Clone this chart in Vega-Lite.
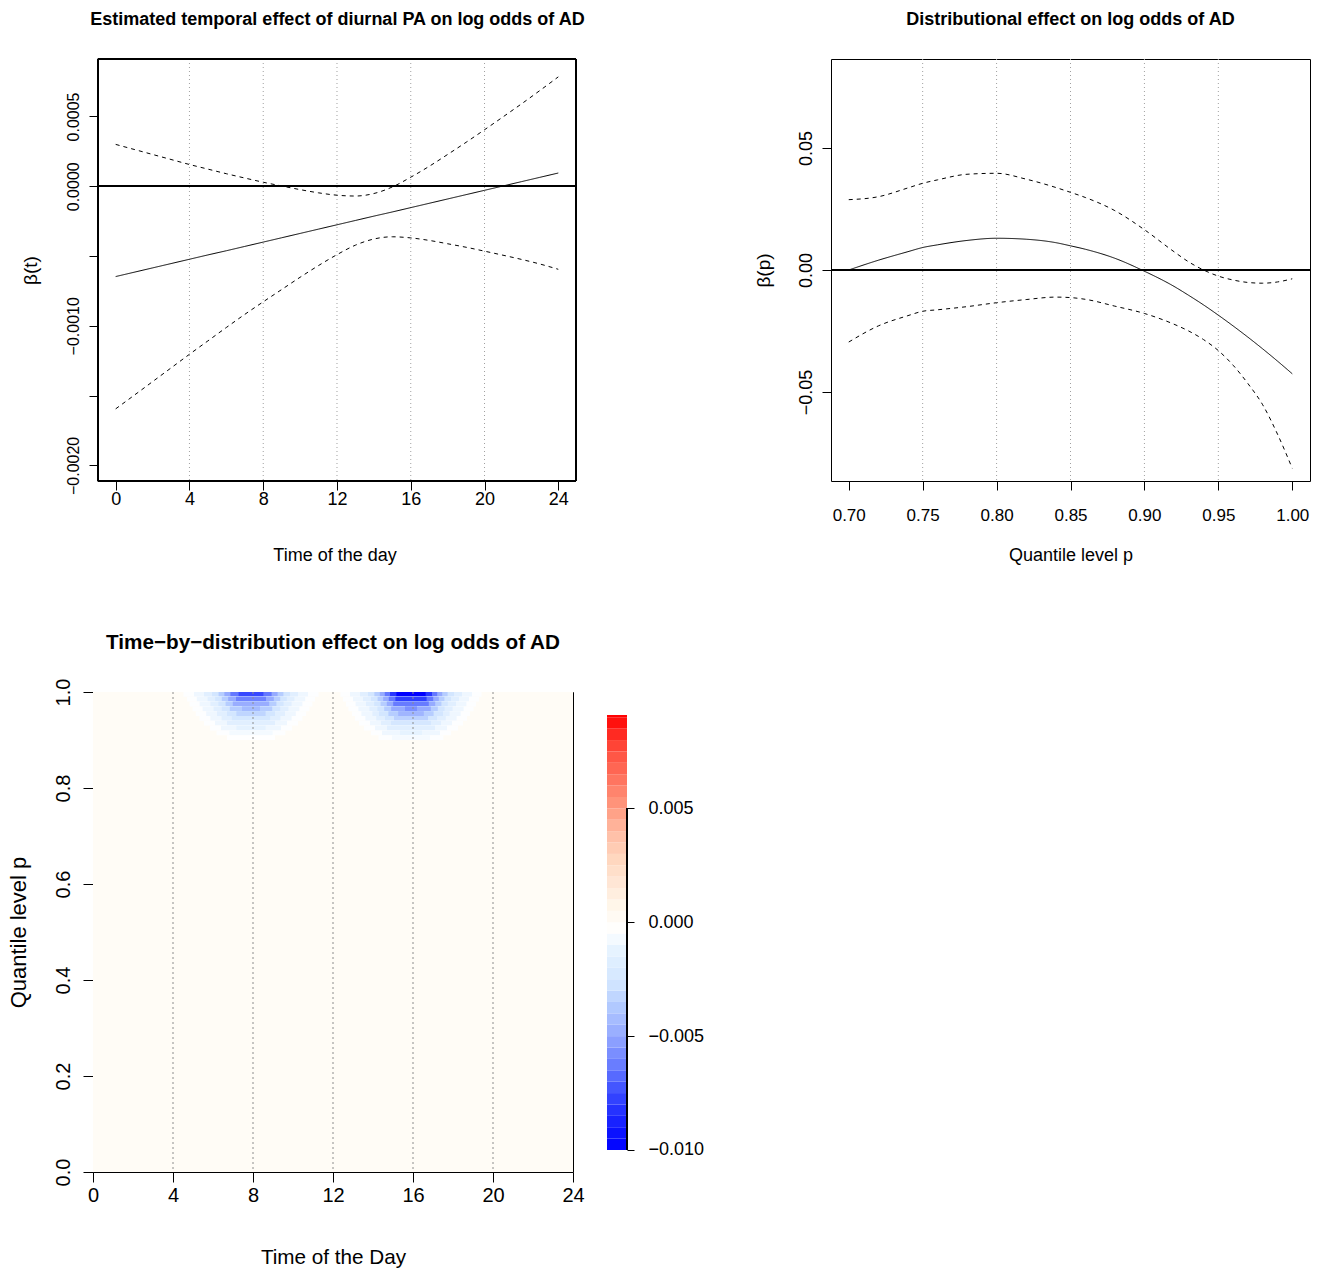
{
"$schema": "https://vega.github.io/schema/vega-lite/v6.json",
"autosize": {"type": "pad"},
"padding": {"left": 6, "top": 10, "right": 0, "bottom": 0},
"background": "white",
"config": {
  "font": "Liberation Sans",
  "view": {"stroke": "black", "strokeWidth": 1},
  "axis": {"domain": false, "grid": false, "tickColor": "black", "tickWidth": 1, "labelColor": "black", "titleColor": "black", "titleFontWeight": "normal", "labelFlush": false, "labelOverlap": false, "labelFont": "Liberation Sans", "titleFont": "Liberation Sans"},
  "title": {"font": "Liberation Sans", "fontWeight": "bold", "color": "black", "anchor": "middle", "frame": "group", "baseline": "top"}
},
"datasets": {
  "p1": [
    {"t":0,"est":-0.000647,"lo":-0.001595,"hi":0.000300},
    {"t":1,"est":-0.000616,"lo":-0.001498,"hi":0.000264},
    {"t":2,"est":-0.000585,"lo":-0.001400,"hi":0.000228},
    {"t":3,"est":-0.000554,"lo":-0.001302,"hi":0.000192},
    {"t":4,"est":-0.000523,"lo":-0.001204,"hi":0.000156},
    {"t":5,"est":-0.000492,"lo":-0.001108,"hi":0.000123},
    {"t":6,"est":-0.000462,"lo":-0.001012,"hi":0.000090},
    {"t":7,"est":-0.000431,"lo":-0.000918,"hi":0.000059},
    {"t":8,"est":-0.000400,"lo":-0.000828,"hi":0.000029},
    {"t":9,"est":-0.000369,"lo":-0.000740,"hi":0.000002},
    {"t":10,"est":-0.000338,"lo":-0.000652,"hi":-0.000024},
    {"t":11,"est":-0.000307,"lo":-0.000568,"hi":-0.000047},
    {"t":12,"est":-0.000276,"lo":-0.000490,"hi":-0.000064},
    {"t":13,"est":-0.000245,"lo":-0.000422,"hi":-0.000070},
    {"t":14,"est":-0.000214,"lo":-0.000378,"hi":-0.000052},
    {"t":15,"est":-0.000184,"lo":-0.000362,"hi":-0.000005},
    {"t":16,"est":-0.000153,"lo":-0.000370,"hi":0.000065},
    {"t":17,"est":-0.000122,"lo":-0.000388,"hi":0.000143},
    {"t":18,"est":-0.000091,"lo":-0.000412,"hi":0.000228},
    {"t":19,"est":-0.000060,"lo":-0.000437,"hi":0.000315},
    {"t":20,"est":-0.000029,"lo":-0.000465,"hi":0.000405},
    {"t":21,"est":0.000002,"lo":-0.000494,"hi":0.000497},
    {"t":22,"est":0.000033,"lo":-0.000524,"hi":0.000590},
    {"t":23,"est":0.000064,"lo":-0.000557,"hi":0.000686},
    {"t":24,"est":0.000095,"lo":-0.000595,"hi":0.000784}
  ],
  "p2": [
    {"p":0.70,"est":0.0000,"lo":-0.0295,"hi":0.0288},
    {"p":0.72,"est":0.0040,"lo":-0.0229,"hi":0.0300},
    {"p":0.74,"est":0.0075,"lo":-0.0187,"hi":0.0336},
    {"p":0.75,"est":0.0092,"lo":-0.0169,"hi":0.0355},
    {"p":0.76,"est":0.0103,"lo":-0.0163,"hi":0.0369},
    {"p":0.78,"est":0.0121,"lo":-0.0150,"hi":0.0392},
    {"p":0.80,"est":0.0130,"lo":-0.0134,"hi":0.0396},
    {"p":0.82,"est":0.0126,"lo":-0.0121,"hi":0.0372},
    {"p":0.84,"est":0.0112,"lo":-0.0111,"hi":0.0338},
    {"p":0.85,"est":0.0099,"lo":-0.0113,"hi":0.0318},
    {"p":0.86,"est":0.0085,"lo":-0.0120,"hi":0.0297},
    {"p":0.88,"est":0.0048,"lo":-0.0148,"hi":0.0243},
    {"p":0.90,"est":-0.0005,"lo":-0.0178,"hi":0.0165},
    {"p":0.92,"est":-0.0067,"lo":-0.0222,"hi":0.0075},
    {"p":0.93,"est":-0.0104,"lo":-0.0250,"hi":0.0033},
    {"p":0.94,"est":-0.0143,"lo":-0.0285,"hi":0.0000},
    {"p":0.95,"est":-0.0185,"lo":-0.0330,"hi":-0.0025},
    {"p":0.96,"est":-0.0229,"lo":-0.0390,"hi":-0.0041},
    {"p":0.97,"est":-0.0275,"lo":-0.0465,"hi":-0.0051},
    {"p":0.98,"est":-0.0323,"lo":-0.0552,"hi":-0.0054},
    {"p":0.99,"est":-0.0373,"lo":-0.0672,"hi":-0.0049},
    {"p":1.00,"est":-0.0425,"lo":-0.0812,"hi":-0.0036}
  ],
  "hm": [
    {"t0":0,"t1":24,"q0":0,"q1":1,"v":0.0001},
    {"t0":4.52,"t1":11.28,"q0":0.99,"q1":1,"v":-0.00045},
    {"t0":5.05,"t1":10.75,"q0":0.99,"q1":1,"v":-0.0009},
    {"t0":5.55,"t1":10.25,"q0":0.99,"q1":1,"v":-0.0016},
    {"t0":5.95,"t1":9.85,"q0":0.99,"q1":1,"v":-0.0025},
    {"t0":6.28,"t1":9.52,"q0":0.99,"q1":1,"v":-0.0036},
    {"t0":6.57,"t1":9.23,"q0":0.99,"q1":1,"v":-0.0049},
    {"t0":6.87,"t1":8.93,"q0":0.99,"q1":1,"v":-0.0064},
    {"t0":7.28,"t1":8.52,"q0":0.99,"q1":1,"v":-0.0076},
    {"t0":4.7,"t1":11.1,"q0":0.98,"q1":0.99,"v":-0.00045},
    {"t0":5.19,"t1":10.61,"q0":0.98,"q1":0.99,"v":-0.0009},
    {"t0":5.73,"t1":10.07,"q0":0.98,"q1":0.99,"v":-0.0016},
    {"t0":6.11,"t1":9.69,"q0":0.98,"q1":0.99,"v":-0.0025},
    {"t0":6.44,"t1":9.36,"q0":0.98,"q1":0.99,"v":-0.0036},
    {"t0":6.76,"t1":9.04,"q0":0.98,"q1":0.99,"v":-0.0049},
    {"t0":7.15,"t1":8.65,"q0":0.98,"q1":0.99,"v":-0.0061},
    {"t0":4.83,"t1":10.97,"q0":0.97,"q1":0.98,"v":-0.00045},
    {"t0":5.33,"t1":10.47,"q0":0.97,"q1":0.98,"v":-0.0009},
    {"t0":5.87,"t1":9.93,"q0":0.97,"q1":0.98,"v":-0.0016},
    {"t0":6.27,"t1":9.53,"q0":0.97,"q1":0.98,"v":-0.0025},
    {"t0":6.63,"t1":9.17,"q0":0.97,"q1":0.98,"v":-0.0036},
    {"t0":6.99,"t1":8.81,"q0":0.97,"q1":0.98,"v":-0.0048},
    {"t0":4.98,"t1":10.82,"q0":0.96,"q1":0.97,"v":-0.00045},
    {"t0":5.48,"t1":10.32,"q0":0.96,"q1":0.97,"v":-0.0009},
    {"t0":6.03,"t1":9.77,"q0":0.96,"q1":0.97,"v":-0.0016},
    {"t0":6.44,"t1":9.36,"q0":0.96,"q1":0.97,"v":-0.0025},
    {"t0":6.84,"t1":8.96,"q0":0.96,"q1":0.97,"v":-0.0036},
    {"t0":7.45,"t1":8.35,"q0":0.96,"q1":0.97,"v":-0.0043},
    {"t0":5.14,"t1":10.66,"q0":0.95,"q1":0.96,"v":-0.00045},
    {"t0":5.66,"t1":10.14,"q0":0.95,"q1":0.96,"v":-0.0009},
    {"t0":6.2,"t1":9.6,"q0":0.95,"q1":0.96,"v":-0.0016},
    {"t0":6.7,"t1":9.1,"q0":0.95,"q1":0.96,"v":-0.0025},
    {"t0":7.17,"t1":8.63,"q0":0.95,"q1":0.96,"v":-0.0033},
    {"t0":5.33,"t1":10.47,"q0":0.94,"q1":0.95,"v":-0.00045},
    {"t0":5.87,"t1":9.93,"q0":0.94,"q1":0.95,"v":-0.0009},
    {"t0":6.43,"t1":9.37,"q0":0.94,"q1":0.95,"v":-0.0016},
    {"t0":6.94,"t1":8.86,"q0":0.94,"q1":0.95,"v":-0.00235},
    {"t0":5.55,"t1":10.25,"q0":0.93,"q1":0.94,"v":-0.00045},
    {"t0":6.1,"t1":9.7,"q0":0.93,"q1":0.94,"v":-0.0009},
    {"t0":6.7,"t1":9.1,"q0":0.93,"q1":0.94,"v":-0.0016},
    {"t0":5.85,"t1":9.95,"q0":0.92,"q1":0.93,"v":-0.00045},
    {"t0":6.4,"t1":9.4,"q0":0.92,"q1":0.93,"v":-0.0009},
    {"t0":7.17,"t1":8.63,"q0":0.92,"q1":0.93,"v":-0.0013},
    {"t0":6.18,"t1":9.62,"q0":0.91,"q1":0.92,"v":-0.00045},
    {"t0":6.82,"t1":8.98,"q0":0.91,"q1":0.92,"v":-0.00075},
    {"t0":6.7,"t1":9.1,"q0":0.90,"q1":0.91,"v":-0.0004},
    {"t0":12.37,"t1":19.43,"q0":0.99,"q1":1,"v":-0.00045},
    {"t0":12.85,"t1":18.95,"q0":0.99,"q1":1,"v":-0.0009},
    {"t0":13.35,"t1":18.45,"q0":0.99,"q1":1,"v":-0.0016},
    {"t0":13.75,"t1":18.05,"q0":0.99,"q1":1,"v":-0.0025},
    {"t0":14.07,"t1":17.73,"q0":0.99,"q1":1,"v":-0.0036},
    {"t0":14.34,"t1":17.46,"q0":0.99,"q1":1,"v":-0.0049},
    {"t0":14.59,"t1":17.21,"q0":0.99,"q1":1,"v":-0.0064},
    {"t0":14.85,"t1":16.95,"q0":0.99,"q1":1,"v":-0.0081},
    {"t0":15.17,"t1":16.63,"q0":0.99,"q1":1,"v":-0.0100},
    {"t0":12.5,"t1":19.3,"q0":0.98,"q1":0.99,"v":-0.00045},
    {"t0":13.0,"t1":18.8,"q0":0.98,"q1":0.99,"v":-0.0009},
    {"t0":13.5,"t1":18.3,"q0":0.98,"q1":0.99,"v":-0.0016},
    {"t0":13.9,"t1":17.9,"q0":0.98,"q1":0.99,"v":-0.0025},
    {"t0":14.23,"t1":17.57,"q0":0.98,"q1":0.99,"v":-0.0036},
    {"t0":14.51,"t1":17.29,"q0":0.98,"q1":0.99,"v":-0.0049},
    {"t0":14.79,"t1":17.01,"q0":0.98,"q1":0.99,"v":-0.0064},
    {"t0":15.12,"t1":16.68,"q0":0.98,"q1":0.99,"v":-0.0079},
    {"t0":12.65,"t1":19.15,"q0":0.97,"q1":0.98,"v":-0.00045},
    {"t0":13.13,"t1":18.67,"q0":0.97,"q1":0.98,"v":-0.0009},
    {"t0":13.65,"t1":18.15,"q0":0.97,"q1":0.98,"v":-0.0016},
    {"t0":14.06,"t1":17.74,"q0":0.97,"q1":0.98,"v":-0.0025},
    {"t0":14.38,"t1":17.42,"q0":0.97,"q1":0.98,"v":-0.0036},
    {"t0":14.69,"t1":17.11,"q0":0.97,"q1":0.98,"v":-0.0049},
    {"t0":15.01,"t1":16.79,"q0":0.97,"q1":0.98,"v":-0.0063},
    {"t0":12.77,"t1":19.03,"q0":0.96,"q1":0.97,"v":-0.00045},
    {"t0":13.27,"t1":18.53,"q0":0.96,"q1":0.97,"v":-0.0009},
    {"t0":13.82,"t1":17.98,"q0":0.96,"q1":0.97,"v":-0.0016},
    {"t0":14.22,"t1":17.58,"q0":0.96,"q1":0.97,"v":-0.0025},
    {"t0":14.56,"t1":17.24,"q0":0.96,"q1":0.97,"v":-0.0036},
    {"t0":14.91,"t1":16.89,"q0":0.96,"q1":0.97,"v":-0.0049},
    {"t0":15.6,"t1":16.2,"q0":0.96,"q1":0.97,"v":-0.0057},
    {"t0":12.95,"t1":18.85,"q0":0.95,"q1":0.96,"v":-0.00045},
    {"t0":13.42,"t1":18.38,"q0":0.95,"q1":0.96,"v":-0.0009},
    {"t0":13.97,"t1":17.83,"q0":0.95,"q1":0.96,"v":-0.0016},
    {"t0":14.3,"t1":17.5,"q0":0.95,"q1":0.96,"v":-0.0025},
    {"t0":14.77,"t1":17.03,"q0":0.95,"q1":0.96,"v":-0.0036},
    {"t0":15.26,"t1":16.54,"q0":0.95,"q1":0.96,"v":-0.0045},
    {"t0":13.1,"t1":18.7,"q0":0.94,"q1":0.95,"v":-0.00045},
    {"t0":13.62,"t1":18.18,"q0":0.94,"q1":0.95,"v":-0.0009},
    {"t0":14.16,"t1":17.64,"q0":0.94,"q1":0.95,"v":-0.0016},
    {"t0":14.6,"t1":17.2,"q0":0.94,"q1":0.95,"v":-0.0025},
    {"t0":15.05,"t1":16.75,"q0":0.94,"q1":0.95,"v":-0.0034},
    {"t0":13.3,"t1":18.5,"q0":0.93,"q1":0.94,"v":-0.00045},
    {"t0":13.85,"t1":17.95,"q0":0.93,"q1":0.94,"v":-0.0009},
    {"t0":14.4,"t1":17.4,"q0":0.93,"q1":0.94,"v":-0.0016},
    {"t0":14.9,"t1":16.9,"q0":0.93,"q1":0.94,"v":-0.0024},
    {"t0":13.55,"t1":18.25,"q0":0.92,"q1":0.93,"v":-0.00045},
    {"t0":14.1,"t1":17.7,"q0":0.92,"q1":0.93,"v":-0.0009},
    {"t0":14.7,"t1":17.1,"q0":0.92,"q1":0.93,"v":-0.0016},
    {"t0":13.9,"t1":17.9,"q0":0.91,"q1":0.92,"v":-0.00045},
    {"t0":14.45,"t1":17.35,"q0":0.91,"q1":0.92,"v":-0.0009},
    {"t0":15.35,"t1":16.45,"q0":0.91,"q1":0.92,"v":-0.00125},
    {"t0":14.28,"t1":17.52,"q0":0.90,"q1":0.91,"v":-0.00045},
    {"t0":14.95,"t1":16.85,"q0":0.90,"q1":0.91,"v":-0.0007}
  ],
  "hgrid": [{"t0":4},{"t0":8},{"t0":12},{"t0":16},{"t0":20}],
  "cb": [
    {"a":-0.0100,"b":-0.0095,"m":-0.00975},
    {"a":-0.0095,"b":-0.0090,"m":-0.00925},
    {"a":-0.0090,"b":-0.0085,"m":-0.00875},
    {"a":-0.0085,"b":-0.0080,"m":-0.00825},
    {"a":-0.0080,"b":-0.0075,"m":-0.00775},
    {"a":-0.0075,"b":-0.0070,"m":-0.00725},
    {"a":-0.0070,"b":-0.0065,"m":-0.00675},
    {"a":-0.0065,"b":-0.0060,"m":-0.00625},
    {"a":-0.0060,"b":-0.0055,"m":-0.00575},
    {"a":-0.0055,"b":-0.0050,"m":-0.00525},
    {"a":-0.0050,"b":-0.0045,"m":-0.00475},
    {"a":-0.0045,"b":-0.0040,"m":-0.00425},
    {"a":-0.0040,"b":-0.0035,"m":-0.00375},
    {"a":-0.0035,"b":-0.0030,"m":-0.00325},
    {"a":-0.0030,"b":-0.0025,"m":-0.00275},
    {"a":-0.0025,"b":-0.0020,"m":-0.00225},
    {"a":-0.0020,"b":-0.0015,"m":-0.00175},
    {"a":-0.0015,"b":-0.0010,"m":-0.00125},
    {"a":-0.0010,"b":-0.0005,"m":-0.00075},
    {"a":-0.0005,"b":0.0000,"m":-0.00025},
    {"a":0.0000,"b":0.0005,"m":0.00025},
    {"a":0.0005,"b":0.0010,"m":0.00075},
    {"a":0.0010,"b":0.0015,"m":0.00125},
    {"a":0.0015,"b":0.0020,"m":0.00175},
    {"a":0.0020,"b":0.0025,"m":0.00225},
    {"a":0.0025,"b":0.0030,"m":0.00275},
    {"a":0.0030,"b":0.0035,"m":0.00325},
    {"a":0.0035,"b":0.0040,"m":0.00375},
    {"a":0.0040,"b":0.0045,"m":0.00425},
    {"a":0.0045,"b":0.0050,"m":0.00475},
    {"a":0.0050,"b":0.0055,"m":0.00525},
    {"a":0.0055,"b":0.0060,"m":0.00575},
    {"a":0.0060,"b":0.0065,"m":0.00625},
    {"a":0.0065,"b":0.0070,"m":0.00675},
    {"a":0.0070,"b":0.0075,"m":0.00725},
    {"a":0.0075,"b":0.0080,"m":0.00775},
    {"a":0.0080,"b":0.0085,"m":0.00825},
    {"a":0.0085,"b":0.0090,"m":0.00875},
    {"a":0.0090,"b":0.0091,"m":0.00905}
  ]
},
"columns": 3,
"align": "none",
"bounds": "flush",
"spacing": {"row": 211, "column": 34},
"concat": [
  {
    "width": 483, "height": 422,
    "view": {"stroke": null},
    "title": {"text": "Estimated temporal effect of diurnal PA on log odds of AD", "fontSize": 18, "offset": 30, "dx": 3},
    "data": {"name": "p1"},
    "encoding": {"x": {"field": "t", "type": "quantitative", "scale": {"domain": [-1.23, 24.96], "nice": false, "zero": false},
      "axis": {"values": [0,4,8,12,16,20,24], "format": "d", "tickSize": 9, "labelFontSize": 18, "labelPadding": 14, "labelBaseline": "alphabetic", "title": "Time of the day", "titleFontSize": 18, "titleY": 79, "titleBaseline": "alphabetic"}}},
    "layer": [
      {"transform": [{"filter": {"field": "t", "oneOf": [4,8,12,16,20]}}], "mark": {"type": "rule", "color": "#a0a0a0", "strokeDash": [1,3], "strokeWidth": 1}},
      {"mark": {"type": "rule", "color": "black", "strokeWidth": 1}, "encoding": {"x": {"datum": -0.96, "type": "quantitative"}, "x2": {"datum": 24.96}, "y": {"datum": 0, "type": "quantitative"}}},
      {"mark": {"type": "rule", "color": "black", "strokeWidth": 1}, "encoding": {"x": {"datum": -0.96, "type": "quantitative"}}},
      {"mark": {"type": "rule", "color": "black", "strokeWidth": 1}, "encoding": {"x": {"datum": 24.96, "type": "quantitative"}}},
      {"mark": {"type": "rule", "color": "black", "strokeWidth": 1}, "encoding": {"x": {"datum": -0.96, "type": "quantitative"}, "x2": {"datum": 24.96}, "y": {"datum": 0.000912, "type": "quantitative"}}},
      {"mark": {"type": "rule", "color": "black", "strokeWidth": 1}, "encoding": {"x": {"datum": -0.96, "type": "quantitative"}, "x2": {"datum": 24.96}, "y": {"datum": -0.002112, "type": "quantitative"}}},
      {"transform": [{"fold": ["est","lo","hi"], "as": ["s","v"]}],
       "mark": {"type": "line", "color": "black", "strokeWidth": 1, "interpolate": "monotone"},
       "encoding": {
         "y": {"field": "v", "type": "quantitative", "scale": {"domain": [-0.002112, 0.000912], "nice": false, "zero": false},
           "axis": {"offset": -5, "values": [-0.002,-0.0015,-0.001,-0.0005,0,0.0005], "labelExpr": "(abs(datum.value + 0.0015) < 1e-9 || abs(datum.value + 0.0005) < 1e-9) ? '' : format(datum.value, '.4f')", "tickSize": 9, "labelFontSize": 16, "labelAngle": 270, "labelAlign": "center", "labelBaseline": "alphabetic", "labelPadding": 11, "title": "β(t)", "titleFontSize": 19, "titleAngle": 270, "titleX": -62, "titleY": 211, "titleAlign": "center", "titleBaseline": "alphabetic"}},
         "strokeDash": {"field": "s", "type": "nominal", "scale": {"domain": ["est","lo","hi"], "range": [[1,0],[4,4],[4,4]]}, "legend": null}
       }}
    ]
  },
  {"width": 187, "height": 422, "view": {"stroke": null}, "data": {"values": []}, "mark": "rect", "encoding": {}},
  {
    "width": 479, "height": 422,
    "title": {"text": "Distributional effect on log odds of AD", "fontSize": 18, "offset": 30},
    "data": {"name": "p2"},
    "encoding": {"x": {"field": "p", "type": "quantitative", "scale": {"domain": [0.688, 1.012], "nice": false, "zero": false},
      "axis": {"values": [0.7,0.75,0.8,0.85,0.9,0.95,1.0], "format": ".2f", "tickSize": 9, "labelFontSize": 17, "labelPadding": 30, "labelBaseline": "alphabetic", "title": "Quantile level p", "titleFontSize": 18, "titleY": 79, "titleBaseline": "alphabetic"}}},
    "layer": [
      {"transform": [{"filter": {"field": "p", "oneOf": [0.75,0.8,0.85,0.9,0.95]}}], "mark": {"type": "rule", "color": "#a0a0a0", "strokeDash": [1,3], "strokeWidth": 1}},
      {"mark": {"type": "rule", "color": "black", "strokeWidth": 1}, "encoding": {"x": {"datum": 0.688, "type": "quantitative"}, "x2": {"datum": 1.012}, "y": {"datum": 0, "type": "quantitative"}}},
      {"transform": [{"fold": ["est","lo","hi"], "as": ["s","v"]}],
       "mark": {"type": "line", "color": "black", "strokeWidth": 1, "interpolate": "monotone"},
       "encoding": {
         "y": {"field": "v", "type": "quantitative", "scale": {"domain": [-0.0864, 0.0864], "nice": false, "zero": false},
           "axis": {"values": [-0.05,0,0.05], "format": ".2f", "tickSize": 9, "labelFontSize": 18, "labelAngle": 270, "labelAlign": "center", "labelBaseline": "alphabetic", "labelPadding": 11, "title": "β(p)", "titleFontSize": 19, "titleAngle": 270, "titleX": -62, "titleY": 211, "titleAlign": "center", "titleBaseline": "alphabetic"}},
         "strokeDash": {"field": "s", "type": "nominal", "scale": {"domain": ["est","lo","hi"], "range": [[1,0],[4,4],[4,4]]}, "legend": null}
       }}
    ]
  },
  {
    "width": 480, "height": 480,
    "title": {"text": "Time−by−distribution effect on log odds of AD", "fontSize": 20.7, "offset": 24.6},
    "layer": [
      {"data": {"name": "hm"}, "mark": {"type": "rect"},
       "encoding": {
         "x": {"field": "t0", "type": "quantitative", "scale": {"domain": [0, 24], "nice": false, "zero": false},
           "axis": {"values": [0,4,8,12,16,20,24], "format": "d", "tickSize": 10, "labelFontSize": 20, "labelPadding": 19, "labelBaseline": "alphabetic", "title": "Time of the Day", "titleFontSize": 20.7, "titleY": 91, "titleBaseline": "alphabetic"}},
         "x2": {"field": "t1"},
         "y": {"field": "q0", "type": "quantitative", "scale": {"domain": [0, 1], "nice": false, "zero": false},
           "axis": {"values": [0,0.2,0.4,0.6,0.8,1], "format": ".1f", "tickSize": 10, "labelFontSize": 20, "labelAngle": 270, "labelAlign": "center", "labelBaseline": "alphabetic", "labelPadding": 14, "title": "Quantile level p", "titleFontSize": 22, "titleAngle": 270, "titleX": -68, "titleY": 240, "titleAlign": "center", "titleBaseline": "alphabetic"}},
         "y2": {"field": "q1"},
         "color": {"field": "v", "type": "quantitative", "scale": {"domain": [-0.0100,-0.0093,-0.0078,-0.0064,-0.0050,-0.0038,-0.0027,-0.0011,-0.0004,0.0006,0.0015,0.0027,0.0038,0.0050,0.0075,0.0091], "range": ["#0000ff","#0a10ff","#3040ff","#6478ff","#94a8ff","#b0c8ff","#d0e4ff","#e8f4ff","#ffffff","#fff8ec","#ffeada","#ffd8c0","#ffc0a8","#ff9a80","#ff5040","#ff0000"], "clamp": true, "interpolate": "rgb"}, "legend": null}
       }},
      {"data": {"name": "hgrid"}, "mark": {"type": "rule", "color": "#8c8c8c", "strokeDash": [2,3], "strokeWidth": 1},
       "encoding": {"x": {"field": "t0", "type": "quantitative", "title": "Time of the Day"}}}
    ]
  },
  {
    "width": 20, "height": 480,
    "view": {"stroke": null},
    "data": {"name": "cb"},
    "layer": [
      {"mark": {"type": "rect"},
       "encoding": {
         "x": {"datum": 0, "type": "quantitative", "scale": {"domain": [0.15, 1.15], "nice": false, "zero": false}, "axis": null},
         "x2": {"datum": 1},
         "y": {"field": "a", "type": "quantitative", "scale": {"domain": [-0.010966, 0.01011], "nice": false, "zero": false},
           "axis": {"orient": "right", "offset": -3, "values": [-0.01,-0.005,0,0.005], "format": ".3f", "tickSize": 7, "labelFontSize": 18, "labelPadding": 14, "labelBaseline": "middle", "labelAlign": "left", "title": null}},
         "y2": {"field": "b"},
         "color": {"field": "m", "type": "quantitative", "scale": {"domain": [-0.0100,-0.0093,-0.0078,-0.0064,-0.0050,-0.0038,-0.0027,-0.0011,-0.0004,0.0006,0.0015,0.0027,0.0038,0.0050,0.0075,0.0091], "range": ["#0000ff","#0a10ff","#3040ff","#6478ff","#94a8ff","#b0c8ff","#d0e4ff","#e8f4ff","#ffffff","#fff8ec","#ffeada","#ffd8c0","#ffc0a8","#ff9a80","#ff5040","#ff0000"], "clamp": true, "interpolate": "rgb"}, "legend": null}
       }},
      {"mark": {"type": "rule", "color": "black", "strokeWidth": 1},
       "encoding": {"x": {"datum": 1, "type": "quantitative"}, "y": {"datum": -0.01, "type": "quantitative"}, "y2": {"datum": 0.005}}}
    ]
  }
]
}
